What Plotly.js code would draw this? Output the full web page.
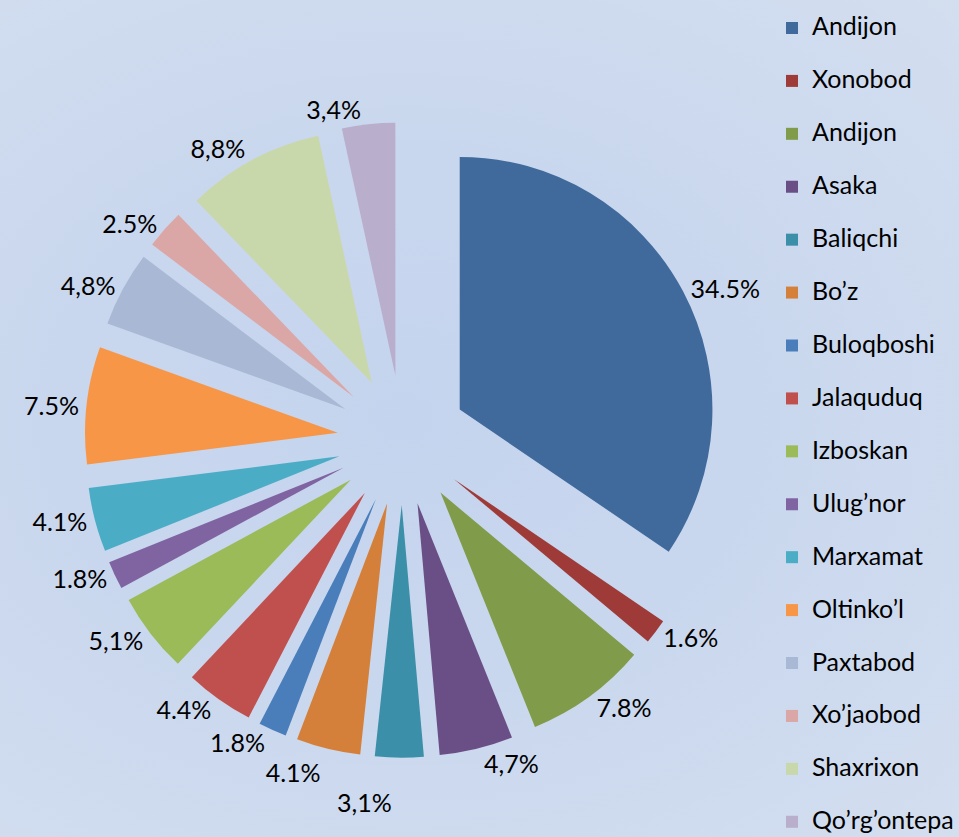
<!DOCTYPE html>
<html>
<head>
<meta charset="utf-8">
<script src="https://cdn.plot.ly/plotly-3.0.1.min.js"></script>
<style>
  html, body { margin: 0; padding: 0; }
  body {
    width: 959px; height: 837px; overflow: hidden;
    background: radial-gradient(ellipse at 42% 50%, #c5d4ee 0%, #c9d7ee 45%, #d3deef 100%);
  }
  #chart { width: 959px; height: 870px; }
  #chart .textline { display: none; }
</style>
</head>
<body>
<div id="chart"></div>
<script>
// Districts (second "Andijon" carries a zero-width space so the slices stay separate)
const districts = ["Andijon", "Xonobod", "Andijon\u200B", "Asaka", "Baliqchi", "Bo\u2019z",
  "Buloqboshi", "Jalaquduq", "Izboskan", "Ulug\u2019nor", "Marxamat", "Oltinko\u2019l",
  "Paxtabod", "Xo\u2019jaobod", "Shaxrixon", "Qo\u2019rg\u2019ontepa"];
const shares = [34.5, 1.6, 7.8, 4.7, 3.1, 4.1, 1.8, 4.4, 5.1, 1.8, 4.1, 7.5, 4.8, 2.5, 8.8, 3.4];
const shareLabels = ["34.5%", "1.6%", "7.8%", "4,7%", "3,1%", "4.1%", "1.8%", "4.4%",
  "5,1%", "1.8%", "4.1%", "7.5%", "4,8%", "2.5%", "8,8%", "3,4%"];
const sliceColors = ["#416a9c", "#9e3b39", "#809b49", "#6a4f87", "#3b8fa8", "#d5803a",
  "#4a7ebb", "#c0504d", "#9bbb59", "#8064a2", "#4bacc6", "#f79646",
  "#a9b9d5", "#dba7a6", "#c8d8aa", "#b9aecb"];

const FONT = "Lato, 'Open Sans', sans-serif";
const H = 870; // drawing is taller than the 837px window; the extra strip is cut off

const trace = {
  type: "pie",
  labels: districts.map(d => '<span style="font-size:25px">' + d + '</span><br> '),
  values: shares,
  text: shareLabels,
  textinfo: "text",
  texttemplate: "%{text}",
  textposition: "outside",
  automargin: false,
  sort: false,
  direction: "clockwise",
  rotation: 0,
  pull: 0.257,
  marker: { colors: sliceColors, line: { width: 0 } },
  textfont: { family: FONT, size: 25, color: "#000000" },
  outsidetextfont: { family: FONT, size: 25, color: "#000000" },
  domain: { x: [85 / 959, 723 / 959], y: [1 - 759 / H, 1 - 121 / H] },
  hoverinfo: "label+text"
};

const layout = {
  width: 959, height: H,
  margin: { l: 0, r: 0, t: 0, b: 0 },
  paper_bgcolor: "rgba(0,0,0,0)",
  plot_bgcolor: "rgba(0,0,0,0)",
  showlegend: true,
  legend: {
    x: 0.8085, xanchor: "left",
    y: 1 - 9 / H, yanchor: "top",
    valign: "top",
    bgcolor: "rgba(0,0,0,0)",
    font: { family: FONT, size: 19.2, color: "#000000" },
    itemwidth: 30,
    maxheight: 1000,
    tracegroupgap: 0
  }
};

Plotly.newPlot("chart", [trace], layout, { displayModeBar: false, staticPlot: true });
</script>
</body>
</html>
